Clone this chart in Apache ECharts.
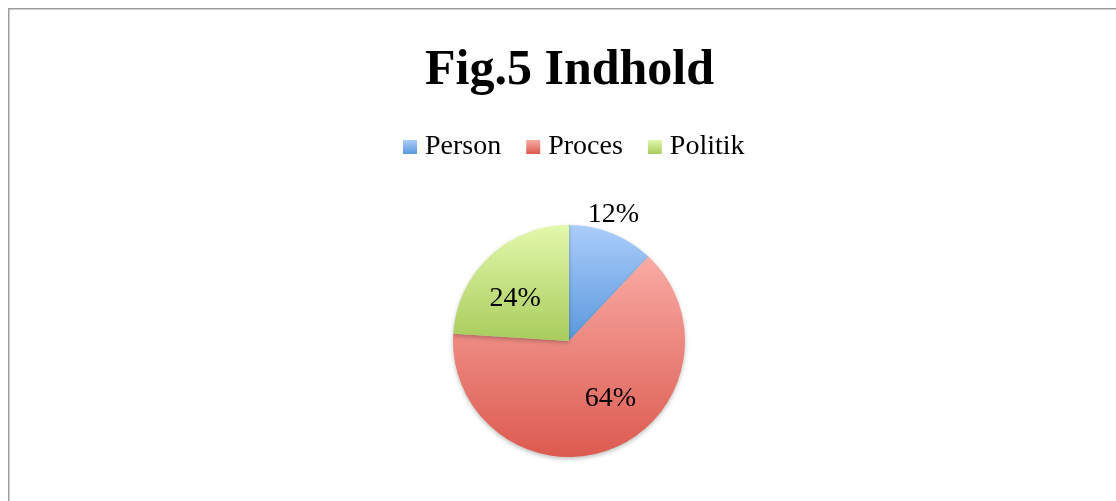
<!DOCTYPE html>
<html>
<head>
<meta charset="utf-8">
<script src="https://cdn.jsdelivr.net/npm/echarts@6/dist/echarts.min.js"></script>
<style>
html,body{margin:0;padding:0;background:#fff;}
#chart{width:1116px;height:501px;}
</style>
</head>
<body>
<div id="chart"></div>
<script>
var titleText = 'Fig.5 Indhold';
var categories = ['Person', 'Proces', 'Politik'];
var values = [12, 64, 24];

var gradTop = ['#abcdfb', '#f9aba5', '#e2f8ab'];
var gradBottom = ['#5a98dc', '#dc5a4f', '#a8cc5c'];
var labelShift = [[22, -70], [19, 1], [-12, 2]];
var FONT = '"Liberation Serif", "DejaVu Serif", serif';

var chart = echarts.init(document.getElementById('chart'), null, {renderer: 'canvas'});

var data = categories.map(function (name, i) {
  return {
    name: name,
    value: values[i],
    itemStyle: {
      color: new echarts.graphic.LinearGradient(0, 0, 0, 1, [
        {offset: 0, color: gradTop[i]},
        {offset: 1, color: gradBottom[i]}
      ])
    }
  };
});

chart.setOption({
  animation: false,
  graphic: [{
    type: 'rect',
    shape: {x: 8.75, y: 8.75, width: 1300, height: 700},
    style: {fill: 'none', stroke: '#9c9c9c', lineWidth: 1.5},
    silent: true,
    z: -10
  }],
  title: {
    text: titleText,
    left: 420,
    top: 41,
    textStyle: {fontFamily: FONT, fontWeight: 'bold', fontSize: 50, color: '#000'}
  },
  legend: {
    data: categories,
    left: 398,
    top: 127,
    icon: 'rect',
    itemWidth: 14,
    itemHeight: 14,
    itemGap: 25,
    textStyle: {fontFamily: FONT, fontSize: 28, color: '#000', padding: [0, 0, 0, 3], lineHeight: 30}
  },
  series: [{
    type: 'pie',
    center: [569, 341],
    radius: [0, 116],
    startAngle: 90,
    clockwise: true,
    data: data,
    itemStyle: {
      borderWidth: 0,
      shadowBlur: 4,
      shadowOffsetY: 2,
      shadowColor: 'rgba(0,0,0,0.25)'
    },
    label: {
      show: true,
      position: 'inside',
      formatter: '{d}%',
      fontFamily: FONT,
      fontSize: 28,
      color: '#000'
    },
    labelLine: {show: false},
    labelLayout: function (params) {
      var s = labelShift[params.dataIndex];
      return {dx: s[0], dy: s[1]};
    },
    emphasis: {disabled: true}
  }]
});
</script>
</body>
</html>
